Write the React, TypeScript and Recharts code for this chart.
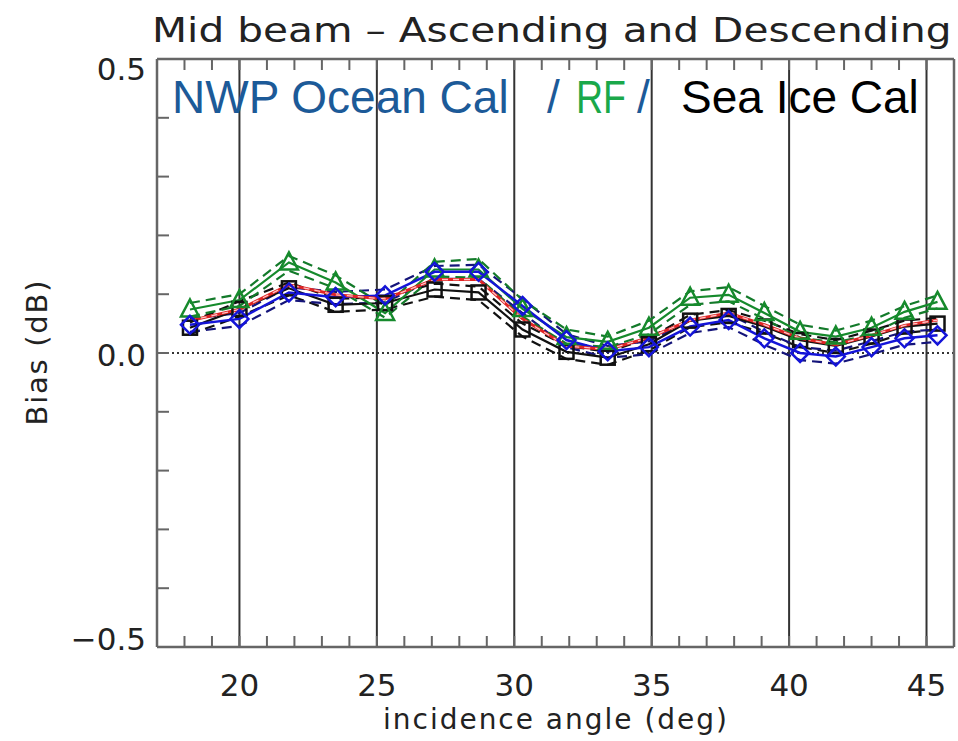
import React from 'react';
import { LineChart, Line, XAxis, YAxis, ReferenceLine } from 'recharts';

// incidence angles of the mid-beam nodes
const angles = [18.2, 20.0, 21.8, 23.5, 25.3, 27.1, 28.7, 30.3, 31.9, 33.4, 34.9, 36.4, 37.8, 39.1, 40.4, 41.7, 43.0, 44.2, 45.4];

// NWP ocean calibration (blue)
const nwp = [0.048, 0.058, 0.103, 0.095, 0.098, 0.138, 0.138, 0.080, 0.022, 0.003, 0.010, 0.045, 0.056, 0.025, 0.000, -0.006, 0.010, 0.025, 0.030];
const nwpAsc = [0.058, 0.068, 0.112, 0.104, 0.108, 0.148, 0.150, 0.092, 0.032, 0.012, 0.020, 0.055, 0.066, 0.036, 0.010, 0.004, 0.020, 0.036, 0.040];
const nwpDesc = [0.036, 0.046, 0.090, 0.083, 0.086, 0.126, 0.126, 0.068, 0.010, -0.008, -0.002, 0.034, 0.044, 0.014, -0.012, -0.018, -0.002, 0.014, 0.019];

// RF (green)
const rf = [0.074, 0.090, 0.154, 0.120, 0.068, 0.142, 0.142, 0.075, 0.027, 0.019, 0.043, 0.094, 0.099, 0.068, 0.036, 0.028, 0.043, 0.070, 0.087];
const rfAsc = [0.085, 0.100, 0.165, 0.132, 0.080, 0.155, 0.160, 0.090, 0.040, 0.028, 0.055, 0.105, 0.112, 0.080, 0.048, 0.038, 0.055, 0.080, 0.098];
const rfDesc = [0.062, 0.080, 0.140, 0.110, 0.060, 0.130, 0.128, 0.062, 0.016, 0.010, 0.032, 0.082, 0.088, 0.058, 0.026, 0.018, 0.032, 0.060, 0.076];

// sea ice calibration (black)
const seaIce = [0.043, 0.075, 0.110, 0.082, 0.085, 0.108, 0.103, 0.040, 0.002, -0.008, 0.015, 0.055, 0.063, 0.045, 0.022, 0.012, 0.028, 0.045, 0.050];
const seaIceAsc = [0.052, 0.088, 0.120, 0.092, 0.095, 0.118, 0.113, 0.050, 0.012, 0.002, 0.025, 0.065, 0.073, 0.055, 0.032, 0.022, 0.038, 0.055, 0.060];
const seaIceDesc = [0.032, 0.062, 0.098, 0.070, 0.074, 0.096, 0.090, 0.028, -0.010, -0.020, 0.004, 0.044, 0.052, 0.034, 0.010, 0.000, 0.016, 0.034, 0.040];

// mean of all (red)
const mean = [0.055, 0.074, 0.116, 0.099, 0.092, 0.125, 0.125, 0.058, 0.012, 0.006, 0.026, 0.056, 0.068, 0.048, 0.025, 0.014, 0.030, 0.047, 0.056];

const xTicks = [18, 19, 20, 21, 22, 23, 24, 25, 26, 27, 28, 29, 30, 31, 32, 33, 34, 35, 36, 37, 38, 39, 40, 41, 42, 43, 44, 45];
const xLabels = [20, 25, 30, 35, 40, 45];
const yTicks = [-0.5, -0.4, -0.3, -0.2, -0.1, 0, 0.1, 0.2, 0.3, 0.4, 0.5];
const yLabels = [-0.5, 0, 0.5];

const rows = angles.map((a, i) => ({
  angle: a,
  nwp: nwp[i], nwpAsc: nwpAsc[i], nwpDesc: nwpDesc[i],
  rf: rf[i], rfAsc: rfAsc[i], rfDesc: rfDesc[i],
  seaIce: seaIce[i], seaIceAsc: seaIceAsc[i], seaIceDesc: seaIceDesc[i],
  mean: mean[i],
}));

const AXIS = '#666';
const TICK_FONT = { fontFamily: 'DejaVu Sans', fontSize: 31, fill: '#222' };

const bottomTick = (p: any) => {
  const v = p.payload.value;
  return (
    <g>
      <line x1={p.x} x2={p.x} y1={p.y} y2={p.y - 11} stroke={AXIS} strokeWidth={2} />
      {xLabels.includes(v) && (
        <text x={p.x} y={p.y + 49} textAnchor="middle" {...TICK_FONT}>{v}</text>
      )}
    </g>
  );
};

const topTick = (p: any) => (
  <line x1={p.x} x2={p.x} y1={p.y} y2={p.y + 11} stroke={AXIS} strokeWidth={2} />
);

const leftTick = (p: any) => {
  const v = p.payload.value;
  const shown = yLabels.some((l) => Math.abs(l - v) < 1e-9);
  const dy = v > 0.4 ? 10 : v < -0.4 ? -8 : 2;
  return (
    <g>
      <line x1={p.x} x2={p.x + 12} y1={p.y} y2={p.y} stroke={AXIS} strokeWidth={2} />
      {shown && (
        <text x={p.x - 11} y={p.y + dy} textAnchor="end" dominantBaseline="central" {...TICK_FONT}>
          {v === 0 ? '0.0' : v < 0 ? '\u2212' + Math.abs(v).toFixed(1) : v.toFixed(1)}
        </text>
      )}
    </g>
  );
};

const rightTick = (p: any) => (
  <line x1={p.x} x2={p.x - 12} y1={p.y} y2={p.y} stroke={AXIS} strokeWidth={2} />
);

const diamond = (color: string) => (p: any) => (
  <path key={'d' + p.index} d={`M${p.cx},${p.cy - 9}L${p.cx + 9},${p.cy}L${p.cx},${p.cy + 9}L${p.cx - 9},${p.cy}Z`}
    fill="none" stroke={color} strokeWidth={2.5} />
);
const triangle = (color: string) => (p: any) => (
  <path key={'t' + p.index} d={`M${p.cx},${p.cy - 10}L${p.cx + 9},${p.cy + 7}L${p.cx - 9},${p.cy + 7}Z`}
    fill="none" stroke={color} strokeWidth={2.5} />
);
const square = (color: string) => (p: any) => (
  <rect key={'s' + p.index} x={p.cx - 7} y={p.cy - 7} width={14} height={14}
    fill="none" stroke={color} strokeWidth={2.5} />
);

export default function App() {
  return (
    <div style={{ position: 'relative', width: 958, height: 741, background: '#fff' }}>
      <style>{'body{margin:0}'}</style>
      <LineChart width={958} height={741} data={rows} margin={{ top: 58, right: 0, bottom: 0, left: 0 }}>
        <XAxis dataKey="angle" type="number" domain={[17, 46]} ticks={xTicks} height={94}
          axisLine={{ stroke: AXIS, strokeWidth: 2.5 }} tickLine={false} tickSize={0} tickMargin={0}
          tick={bottomTick} interval={0} allowDataOverflow />
        <XAxis xAxisId="top" orientation="top" dataKey="angle" type="number" domain={[17, 46]} ticks={xTicks}
          height={1} axisLine={{ stroke: AXIS, strokeWidth: 2.5 }} tickLine={false} tickSize={0} tickMargin={0}
          tick={topTick} interval={0} />
        <YAxis type="number" domain={[-0.5, 0.5]} ticks={yTicks} width={157}
          axisLine={{ stroke: AXIS, strokeWidth: 2.5 }} tickLine={false} tickSize={0} tickMargin={0}
          tick={leftTick} interval={0} allowDataOverflow />
        <YAxis yAxisId="right" orientation="right" type="number" domain={[-0.5, 0.5]} ticks={yTicks} width={4}
          axisLine={{ stroke: AXIS, strokeWidth: 2.5 }} tickLine={false} tickSize={0} tickMargin={0}
          tick={rightTick} interval={0} />

        {xLabels.map((v) => (
          <ReferenceLine key={v} x={v} stroke="#333" strokeWidth={2} />
        ))}
        <ReferenceLine y={0} stroke="#333" strokeWidth={1.8} strokeDasharray="2 3" />

        <Line dataKey="seaIceAsc" stroke="#111" strokeWidth={2.2} strokeDasharray="10 6" dot={false} isAnimationActive={false} />
        <Line dataKey="seaIceDesc" stroke="#111" strokeWidth={2.2} strokeDasharray="10 6" dot={false} isAnimationActive={false} />
        <Line dataKey="nwpAsc" stroke="#14147a" strokeWidth={2.2} strokeDasharray="10 6" dot={false} isAnimationActive={false} />
        <Line dataKey="nwpDesc" stroke="#14147a" strokeWidth={2.2} strokeDasharray="10 6" dot={false} isAnimationActive={false} />
        <Line dataKey="rfAsc" stroke="#137a2a" strokeWidth={2.2} strokeDasharray="10 6" dot={false} isAnimationActive={false} />
        <Line dataKey="rfDesc" stroke="#137a2a" strokeWidth={2.2} strokeDasharray="10 6" dot={false} isAnimationActive={false} />

        <Line dataKey="seaIce" stroke="#111" strokeWidth={2.2} dot={square('#111')} isAnimationActive={false} />
        <Line dataKey="rf" stroke="#168a2c" strokeWidth={2.2} dot={triangle('#168a2c')} isAnimationActive={false} />
        <Line dataKey="nwp" stroke="#1414d8" strokeWidth={2.5} dot={diamond('#1414d8')} isAnimationActive={false} />
        <Line dataKey="mean" stroke="#e02424" strokeWidth={3} dot={false} isAnimationActive={false} />
        <Line dataKey="mean" stroke="#ffc4c4" strokeWidth={1.3} strokeDasharray="6 5" dot={false} isAnimationActive={false} />
      </LineChart>

      <svg width={958} height={741} style={{ position: 'absolute', left: 0, top: 0, pointerEvents: 'none' }}>
        <text transform="translate(152,42) scale(1.23,1)" x={0} y={0} fontFamily="DejaVu Sans" fontSize={33}
          fill="#222" textLength={650} lengthAdjust="spacing">
          Mid beam – Ascending and Descending
        </text>
        <text x={383} y={729} fontFamily="DejaVu Sans" fontSize={28} fill="#222" textLength={344} lengthAdjust="spacing">
          incidence angle (deg)
        </text>
        <text transform="translate(47,353) rotate(-90)" textAnchor="middle" fontFamily="DejaVu Sans" fontSize={29}
          fill="#222" textLength={145} lengthAdjust="spacing">
          Bias (dB)
        </text>
        <g fontFamily="Liberation Sans" fontSize={46}>
          <text x={172} y={113} fill="#1c5a98">NWP Ocean Cal</text>
          <text x={547} y={113} fill="#1c5a98">/</text>
          <text x={576} y={113} fill="#1aa84a" textLength={50} lengthAdjust="spacingAndGlyphs">RF</text>
          <text x={637} y={113} fill="#1c5a98">/</text>
          <text x={681} y={113} fill="#000">Sea Ice Cal</text>
        </g>
      </svg>
    </div>
  );
}
